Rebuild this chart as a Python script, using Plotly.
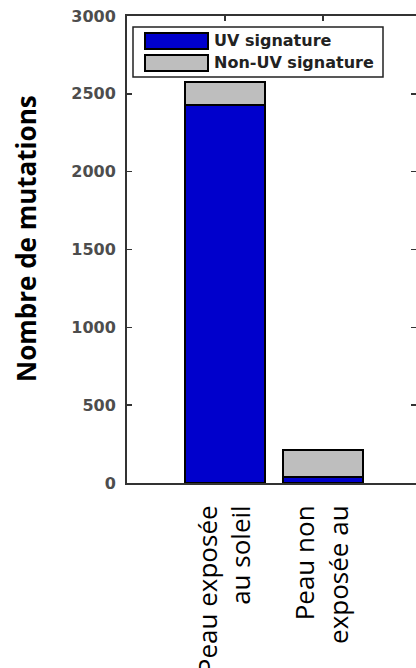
import plotly.graph_objects as go

categories = ["Peau exposée<br>au soleil", "Peau non<br>exposée au"]
cat_pos = [1, 2]
uv_values = [2430, 40]
non_uv_values = [145, 175]
series_names = ["UV signature", "Non-UV signature"]
y_ticks = [0, 500, 1000, 1500, 2000, 2500, 3000]

BLUE = "#0000CC"
GRAY = "#BEBEBE"

fig = go.Figure()
fig.add_trace(go.Bar(x=cat_pos, y=uv_values, name=series_names[0], width=0.81,
                     hoverinfo="skip",
                     marker=dict(color=BLUE, line=dict(color="black", width=2))))
fig.add_trace(go.Bar(x=cat_pos, y=non_uv_values, name=series_names[1], width=0.81,
                     hoverinfo="skip",
                     marker=dict(color=GRAY, line=dict(color="black", width=2))))

W, H = 416, 668
SL, SR, ST, SB = 127, 416, 16, 483
L, R, T, B = SL, W - SR, ST, H - SB

fig.update_layout(
    width=W, height=H,
    margin=dict(l=L, r=R, t=T, b=B, pad=0, autoexpand=False),
    barmode="stack",
    showlegend=False,
    hovermode=False,
    plot_bgcolor="white", paper_bgcolor="white",
    xaxis=dict(range=[0, 2.95], tickvals=cat_pos, ticktext=categories,
               automargin=False,
               tickangle=-90, ticks="inside", ticklen=5, tickwidth=1.5, tickcolor="#333",
               showline=True, linecolor="#333", linewidth=2, mirror="ticks",
               showgrid=False, zeroline=False, layer="below traces",
               ticklabelstandoff=10,
               tickfont=dict(family="Open Sans", size=26, color="black")),
    yaxis=dict(range=[0, 3000], tickvals=y_ticks,
               automargin=False,
               ticks="inside", ticklen=5, tickwidth=1.5, tickcolor="#333",
               showline=True, linecolor="#333", linewidth=2, mirror="ticks",
               showgrid=False, zeroline=False,
               ticklabelstandoff=6,
               tickfont=dict(family="DejaVu Sans", size=16, color="#4D4D4D", weight="bold")),
)

pw = SR - SL
ph = SB - ST
def px(x):
    return (x - SL) / pw
def py(y):
    return (SB - y) / ph

shapes = []
shapes.append(dict(type="rect", xref="paper", yref="paper",
                   x0=px(133), x1=px(383), y0=py(77), y1=py(27),
                   line=dict(color="#222", width=1.5), fillcolor="white", layer="above"))
colors = [BLUE, GRAY]
rows = [(33, 49), (55, 71)]
annots = []
for name, col, (ya, yb) in zip(series_names, colors, rows):
    shapes.append(dict(type="rect", xref="paper", yref="paper",
                       x0=px(145), x1=px(208), y0=py(yb), y1=py(ya),
                       line=dict(color="black", width=2), fillcolor=col, layer="above"))
    annots.append(dict(xref="paper", yref="paper", x=px(212), y=py((ya + yb) / 2),
                       xanchor="left", yanchor="middle", showarrow=False, text=name,
                       font=dict(family="DejaVu Sans", size=16, color="#222", weight="bold")))

annots.append(dict(xref="paper", yref="paper", x=px(26), y=py(238),
                   xanchor="center", yanchor="middle", showarrow=False,
                   text="Nombre de mutations", textangle=-90,
                   font=dict(family="Open Sans", size=26, color="black", weight="bold")))

fig.update_layout(shapes=shapes, annotations=annots)
fig.write_html("out.html",
               config=dict(displayModeBar=False, staticPlot=True),
               post_script="document.documentElement.style.overflow='hidden';"
                           "document.body.style.margin='0';"
                           "document.body.style.overflow='hidden';")
